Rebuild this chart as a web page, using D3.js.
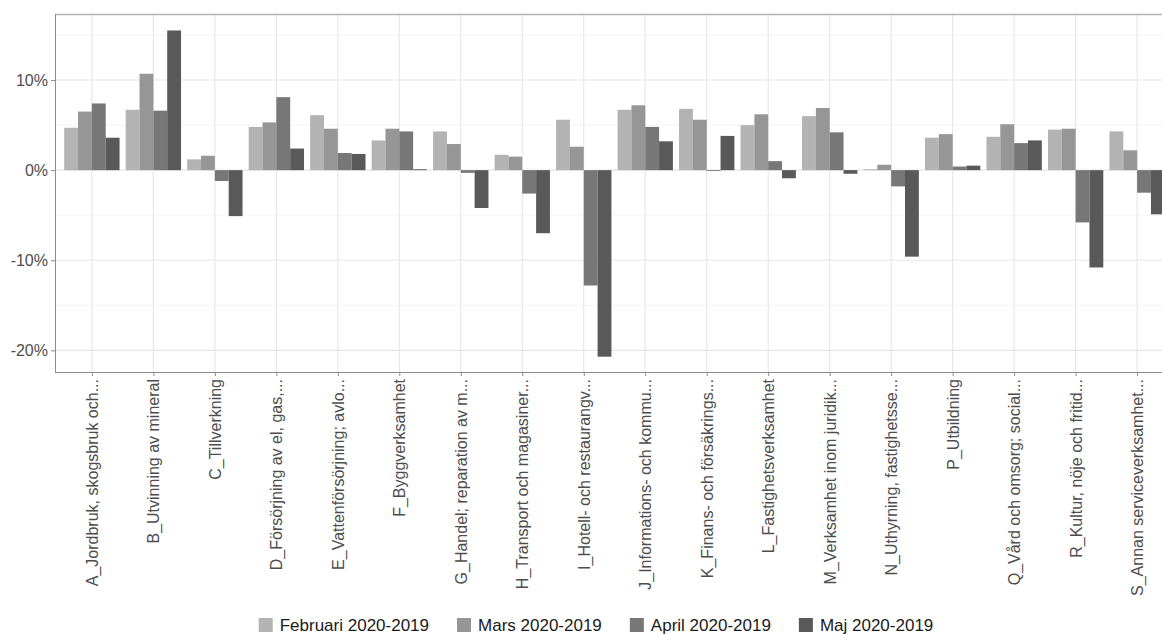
<!DOCTYPE html>
<html><head><meta charset="utf-8">
<script src="https://cdn.jsdelivr.net/npm/d3@7/dist/d3.min.js"></script>
<style>body{margin:0;background:#fff;} svg{display:block;font-family:"Liberation Sans",Arial,sans-serif;}</style>
</head><body>
<svg id="chart" width="1162" height="635"></svg>
<script>
const categories = ["A_Jordbruk, skogsbruk och...","B_Utvinning av mineral","C_Tillverkning","D_Försörjning av el, gas,...","E_Vattenförsörjning; avlo...","F_Byggverksamhet","G_Handel; reparation av m...","H_Transport och magasiner...","I_Hotell- och restaurangv...","J_Informations- och kommu...","K_Finans- och försäkrings...","L_Fastighetsverksamhet","M_Verksamhet inom juridik...","N_Uthyrning, fastighetsse...","P_Utbildning","Q_Vård och omsorg; social...","R_Kultur, nöje och fritid...","S_Annan serviceverksamhet..."];
const seriesNames = ["Februari 2020-2019","Mars 2020-2019","April 2020-2019","Maj 2020-2019"];
const februari = [4.7, 6.7, 1.2, 4.8, 6.1, 3.3, 4.3, 1.7, 5.6, 6.7, 6.8, 5.0, 6.0, 0.1, 3.6, 3.7, 4.5, 4.3];
const mars     = [6.5, 10.7, 1.6, 5.3, 4.6, 4.6, 2.9, 1.5, 2.6, 7.2, 5.6, 6.2, 6.9, 0.6, 4.0, 5.1, 4.6, 2.2];
const april    = [7.4, 6.6, -1.2, 8.1, 1.9, 4.3, -0.3, -2.6, -12.8, 4.8, -0.1, 1.0, 4.2, -1.8, 0.4, 3.0, -5.8, -2.5];
const maj      = [3.6, 15.5, -5.1, 2.4, 1.8, 0.1, -4.2, -7.0, -20.7, 3.2, 3.8, -0.9, -0.4, -9.6, 0.5, 3.3, -10.8, -4.9];
const yTicks = [-20, -10, 0, 10];
const yMinor = [-15, -5, 5, 15];
const colors = ["#b3b3b3", "#969696", "#777777", "#595959"];

const seriesValues = [februari, mars, april, maj];
const svg = d3.select("#chart");
const L = 55, T = 14, R = 1174, B = 372;
const FONT = "'Liberation Sans', Arial, sans-serif";

const x = d3.scalePoint().domain(categories).range([L, R]).padding(0.6);
const step = x.step();
const inner = d3.scaleBand().domain(seriesNames).range([-step*0.45, step*0.45]);
const y = d3.scaleLinear().domain([-22.4, 17.33]).range([B, T]);

const g = svg.append("g");
// grid
g.selectAll(".ymin").data(yMinor).join("line")
  .attr("x1", L).attr("x2", R).attr("y1", d=>y(d)).attr("y2", d=>y(d))
  .attr("stroke", "#f0f0f0").attr("stroke-width", 0.8);
g.selectAll(".ymaj").data(yTicks).join("line")
  .attr("x1", L).attr("x2", R).attr("y1", d=>y(d)).attr("y2", d=>y(d))
  .attr("stroke", "#e6e6e6").attr("stroke-width", 1.1);
g.selectAll(".xmaj").data(categories).join("line")
  .attr("x1", d=>x(d)).attr("x2", d=>x(d)).attr("y1", T).attr("y2", B)
  .attr("stroke", "#e6e6e6").attr("stroke-width", 1.1);

// bars
const rows = [];
categories.forEach((c, i) => seriesNames.forEach((s, j) => rows.push({c, s, j, v: seriesValues[j][i]})));
g.selectAll("rect.bar").data(rows).join("rect")
  .attr("class", "bar")
  .attr("x", d => x(d.c) + inner(d.s))
  .attr("width", inner.bandwidth())
  .attr("y", d => y(Math.max(0, d.v)))
  .attr("height", d => Math.abs(y(d.v) - y(0)))
  .attr("fill", d => colors[d.j]);

// border
g.append("line").attr("x1", L).attr("x2", R).attr("y1", T+0.5).attr("y2", T+0.5).attr("stroke", "#b3b3b3").attr("stroke-width", 1.3);

// axes
const yAxis = d3.axisLeft(y).tickValues(yTicks).tickFormat(d => d + "%").tickSize(4).tickPadding(3);
const ya = svg.append("g").attr("transform", `translate(${L},0)`).call(yAxis);
ya.select(".domain").attr("stroke", "#8c8c8c").attr("d", `M0.5,${T}V${B}`);
ya.selectAll(".tick line").attr("stroke", "#8c8c8c");
ya.selectAll(".tick text").attr("fill", "#4d4d4d").style("font-size", "16px").style("font-family", FONT);

const xAxis = d3.axisBottom(x).tickSize(4).tickPadding(3);
const xa = svg.append("g").attr("transform", `translate(0,${B})`).call(xAxis);
xa.select(".domain").attr("stroke", "#8c8c8c").attr("d", `M${L},0.5H${R}`);
xa.selectAll(".tick line").attr("stroke", "#8c8c8c");
xa.selectAll(".tick text").attr("fill", "#4d4d4d").style("font-size", "16px")
  .style("font-family", FONT)
  .attr("transform", "rotate(-90)").attr("text-anchor", "end")
  .attr("x", -7).attr("y", 0).attr("dy", "0.35em");

// legend
const legend = svg.append("g");
const items = legend.selectAll("g").data(seriesNames).join("g");
items.append("rect").attr("width", 14).attr("height", 14).attr("y", -7).attr("fill", (d,i)=>colors[i]);
items.append("text").attr("x", 21).attr("dy", "0.35em").text(d=>d).attr("fill", "#1a1a1a")
  .style("font-size", "17px").style("font-family", FONT);
const widths = items.nodes().map(n => n.getBBox().width);
const gap = 28;
const total = d3.sum(widths) + gap*(widths.length-1);
let cx = 596 - total/2;
items.attr("transform", (d,i) => { const t = `translate(${cx},625)`; cx += widths[i] + gap; return t; });
</script>
</body></html>
